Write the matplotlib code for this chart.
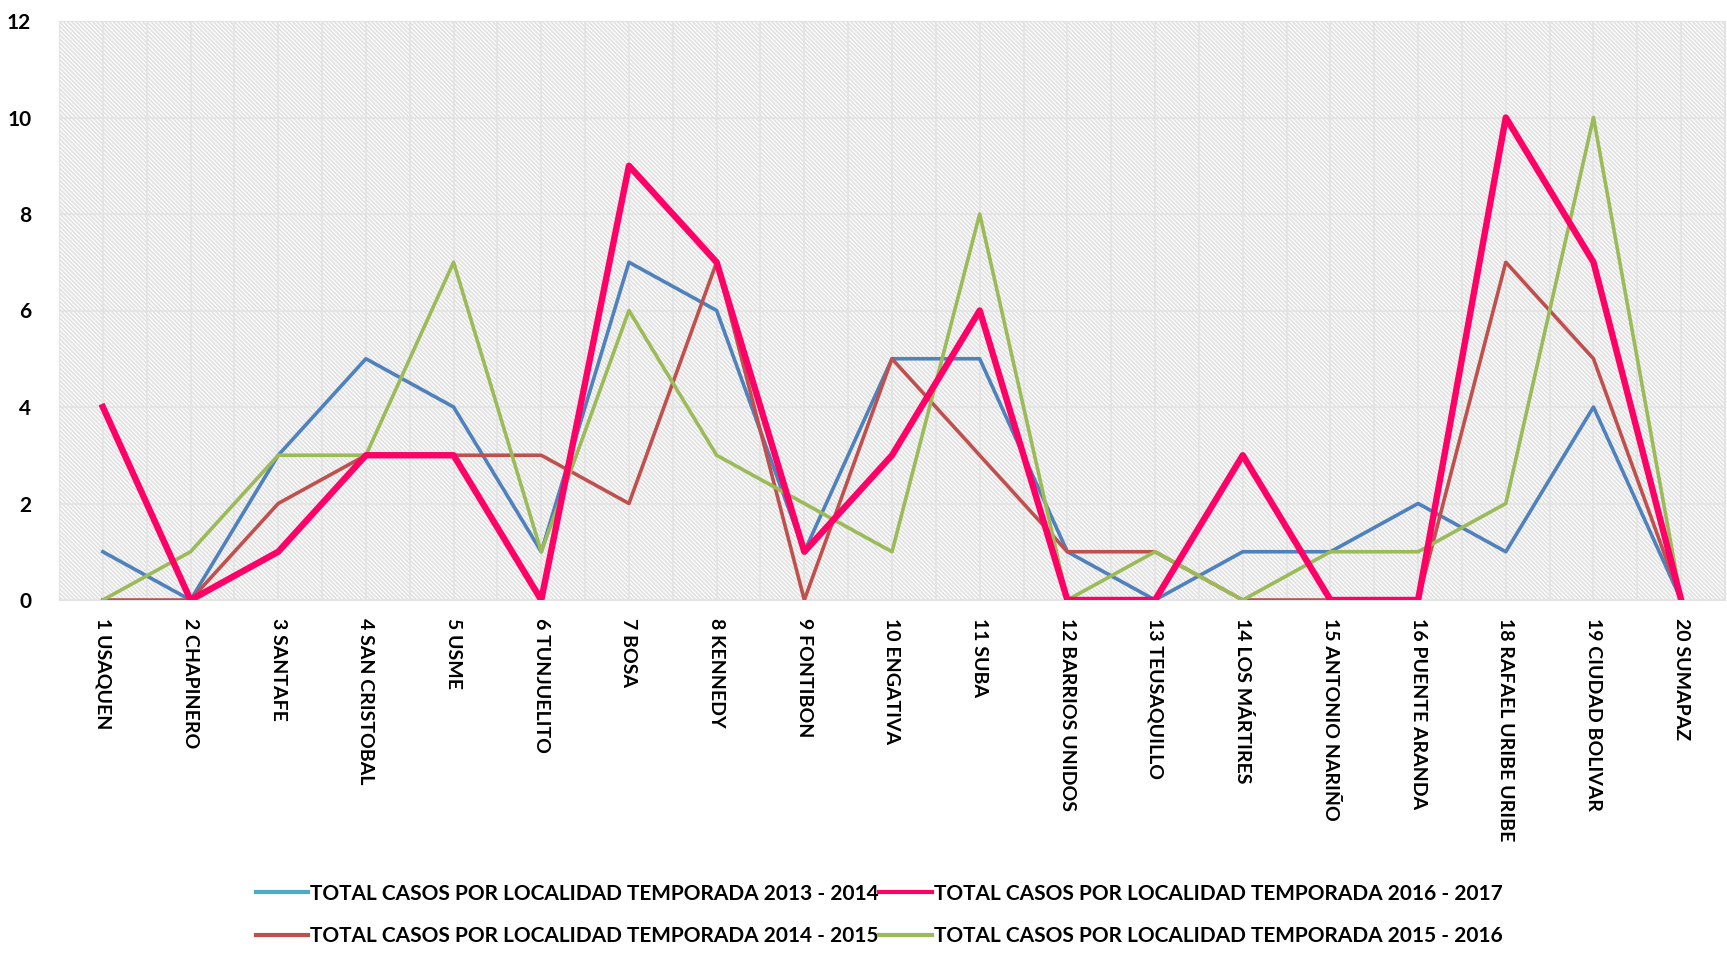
import numpy as np
import matplotlib.pyplot as plt

plt.rcParams['font.family'] = ['Lato', 'DejaVu Sans']
plt.rcParams['hatch.linewidth'] = 1.3

# localidades (x axis)
localidades = ["1 USAQUEN", "2 CHAPINERO", "3 SANTAFE", "4 SAN CRISTOBAL", "5 USME",
               "6 TUNJUELITO", "7 BOSA", "8 KENNEDY", "9 FONTIBON", "10 ENGATIVA",
               "11 SUBA", "12 BARRIOS UNIDOS", "13 TEUSAQUILLO", "14 LOS MÁRTIRES",
               "15 ANTONIO NARIÑO", "16 PUENTE ARANDA", "18 RAFAEL URIBE URIBE",
               "19 CIUDAD BOLIVAR", "20 SUMAPAZ"]

# casos por temporada
t2013 = [1, 0, 3, 5, 4, 1, 7, 6, 1, 5, 5, 1, 0, 1, 1, 2, 1, 4, 0]
t2014 = [0, 0, 2, 3, 3, 3, 2, 7, 0, 5, 3, 1, 1, 0, 0, 0, 7, 5, 0]
t2015 = [0, 1, 3, 3, 7, 1, 6, 3, 2, 1, 8, 0, 1, 0, 1, 1, 2, 10, 0]
t2016 = [4, 0, 1, 3, 3, 0, 9, 7, 1, 3, 6, 0, 0, 3, 0, 0, 10, 7, 0]

lbl = "TOTAL CASOS POR LOCALIDAD TEMPORADA "

fig = plt.figure(figsize=(17.27, 9.69), dpi=100)
ax = fig.add_axes([59/1727, 1 - 600/969, (1725 - 59)/1727, (600 - 21)/969])

# hatched background like the excel chart
ax.patch.set_facecolor('white')
ax.patch.set_edgecolor('#e2e2e2')
ax.patch.set_hatch('\\' * 8)
ax.patch.set_linewidth(0)

x = np.arange(len(localidades))

l1, = ax.plot(x, t2013, color='#4F81BD', lw=2.6, zorder=3)
l2, = ax.plot(x, t2014, color='#C0504D', lw=2.6, zorder=3)
l3, = ax.plot(x, t2015, color='#9BBB59', lw=2.6, zorder=3)
l4, = ax.plot(x, t2016, color='#FF0066', lw=4.6, zorder=4)

ax.set_xlim(-0.5, len(localidades) - 0.5)
ax.set_ylim(0, 12)
ax.set_yticks(range(0, 13, 2))
ax.set_xticks(x)
ax.set_xticklabels(localidades, rotation=-90, ha='center', va='top',
                   fontsize=14, fontweight='bold')
for t in ax.get_yticklabels():
    t.set_fontsize(15)
    t.set_fontweight('bold')
ax.tick_params(length=0)
ax.tick_params(axis='x', pad=13)
ax.tick_params(axis='y', pad=20)

# grid: every half category vertically, every 2 horizontally
for gx in np.arange(-0.5, len(localidades), 0.5):
    ax.axvline(gx, color='#e3e3e3', lw=1.2, zorder=1)
for gy in range(0, 13, 2):
    ax.axhline(gy, color='#e3e3e3', lw=1.2, zorder=1)

for s in ax.spines.values():
    s.set_color('#e3e3e3')

leg = fig.legend([l1, l2, l4, l3],
                 [lbl + "2013 - 2014", lbl + "2014 - 2015", lbl + "2016 - 2017", lbl + "2015 - 2016"],
                 ncol=2, loc='center', bbox_to_anchor=(879/1727, 1 - 915/969),
                 frameon=False, prop={'size': 15, 'weight': 'bold'},
                 handlelength=2.5, handletextpad=0.1, columnspacing=0.05,
                 labelspacing=1.1)
for ln in leg.get_lines():
    ln.set_linewidth(3)
leg.get_lines()[0].set_color('#4BACC6')

fig.savefig('out.png', dpi=100)
